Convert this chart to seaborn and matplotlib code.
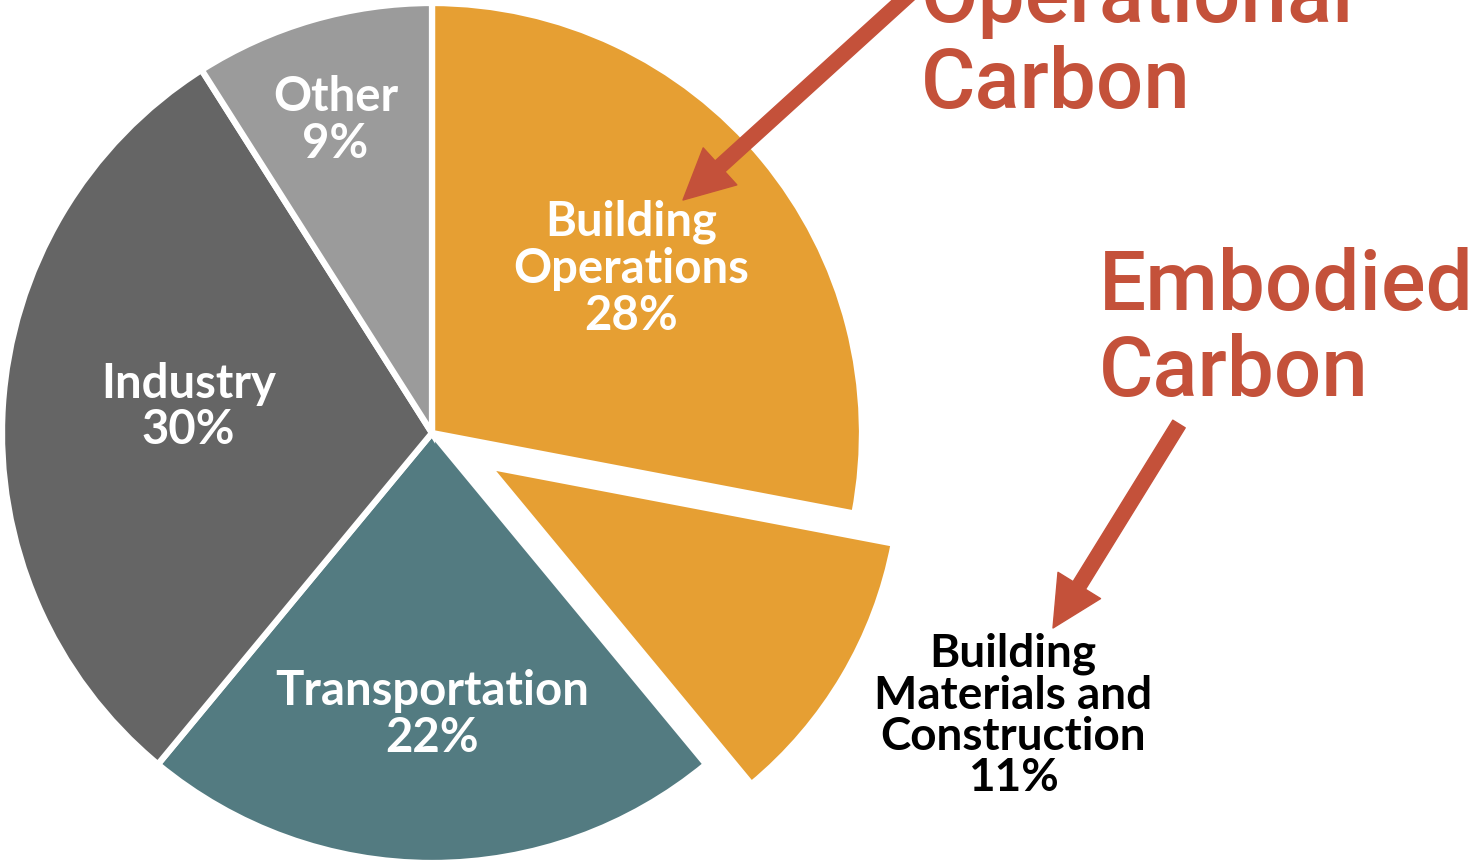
import numpy as np
import matplotlib
matplotlib.use("Agg")
import matplotlib.pyplot as plt
from matplotlib.patches import FancyArrowPatch
import seaborn as sns

# ---- data ----
categories = ["Building\nOperations", "Building\nMaterials and\nConstruction", "Transportation", "Industry", "Other"]
shares = [28, 11, 22, 30, 9]
slice_colors = ["#E69F33", "#E69F33", "#537B81", "#656565", "#9B9B9B"]
callouts = ["Operational\nCarbon", "Embodied\nCarbon"]

sns.set_theme(style="white")
plt.rcParams["font.family"] = ["Lato", "DejaVu Sans"]

W, H = 1473, 865
fig = plt.figure(figsize=(W / 100, H / 100), dpi=100)
ax = fig.add_axes([0, 0, 1, 1])

R = 430
cx, cy = 432, H - 433
explode = [0, 0.152 * R, 0, 0, 0]
wedges, _ = ax.pie(shares, colors=slice_colors, startangle=90, counterclock=False,
                   radius=R, center=(cx, cy), explode=explode,
                   wedgeprops=dict(edgecolor="white", linewidth=4.5))
wedges[1].set_radius(R * 0.96)

ax.set_xlim(0, W)
ax.set_ylim(0, H)
ax.set_aspect("equal")
ax.axis("off")

red = "#C4513A"

def label_pos(w, frac, dang=0.0):
    ang = np.deg2rad((w.theta1 + w.theta2) / 2 + dang)
    x0, y0 = w.center
    return x0 + frac * R * np.cos(ang), y0 + frac * R * np.sin(ang)

inner = [(0, 0.60, 0), (2, 0.655, 0), (3, 0.57, -2.5), (4, 0.76, 1)]
for i, frac, d in inner:
    x, y = label_pos(wedges[i], frac, d)
    ax.text(x, y, f"{categories[i]}\n{shares[i]}%", color="white", ha="center", va="center",
            fontsize=34, fontweight="bold", linespacing=1.08)

# outside label for embodied slice
ax.text(1013, H - 716, f"{categories[1]}\n{shares[1]}%", color="black", ha="center", va="center",
        fontsize=33, fontweight="bold", linespacing=0.98)

# callouts
ax.text(921, H - 108, callouts[0], color=red, ha="left", va="baseline",
        fontsize=60, fontweight="medium", family=["Roboto", "DejaVu Sans"], linespacing=1.1)
ax.text(1099, H - 396, callouts[1], color=red, ha="left", va="baseline",
        fontsize=60, fontweight="medium", family=["Roboto", "DejaVu Sans"], linespacing=1.1)

style = "simple,head_length=3.6,head_width=3.6,tail_width=1.05"
for (x0, y0), (x1, y1) in [((912, -8), (683, 200)), ((1179, 424), (1053, 628))]:
    ax.add_patch(FancyArrowPatch((x0, H - y0), (x1, H - y1), arrowstyle=style,
                                 mutation_scale=10, color=red, shrinkA=0, shrinkB=0))

fig.savefig("out.png", dpi=100, facecolor="white")
